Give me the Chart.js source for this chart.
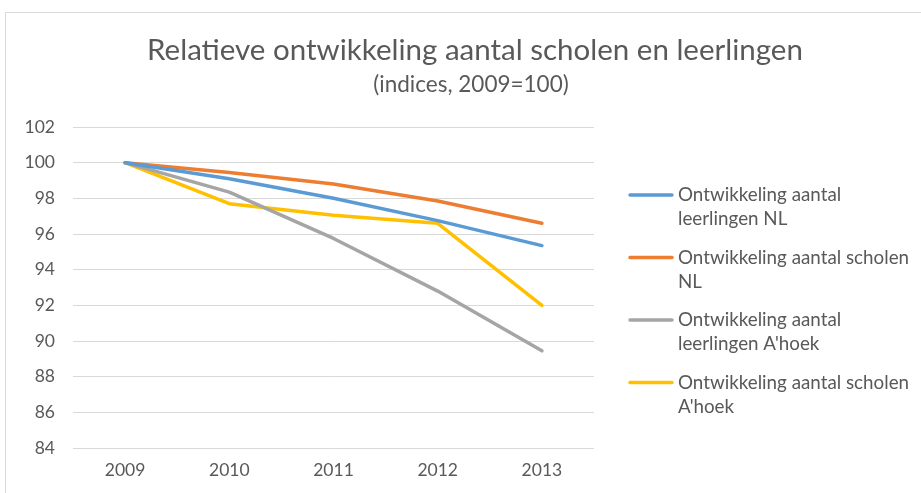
<!DOCTYPE html>
<html>
<head>
<meta charset="utf-8">
<script src="https://cdn.jsdelivr.net/npm/chart.js@4"></script>
<style>
  html, body { margin: 0; padding: 0; background: #fff; }
  canvas { display: block; }
</style>
</head>
<body>
<canvas id="chart" width="921" height="493"></canvas>
<script>
const years = ['2009', '2010', '2011', '2012', '2013'];
const seriesNames = [
  ['Ontwikkeling aantal', 'leerlingen NL'],
  ['Ontwikkeling aantal scholen', 'NL'],
  ['Ontwikkeling aantal', "leerlingen A'hoek"],
  ['Ontwikkeling aantal scholen', "A'hoek"]
];
const leerlingenNL = [100, 99.1, 98.0, 96.75, 95.35];
const scholenNL = [100, 99.45, 98.8, 97.85, 96.6];
const leerlingenAhoek = [100, 98.35, 95.75, 92.8, 89.45];
const scholenAhoek = [100, 97.7, 97.05, 96.6, 92.0];
const yTicks = [84, 86, 88, 90, 92, 94, 96, 98, 100, 102];
const colors = ['#5B9BD5', '#ED7D31', '#A5A5A5', '#FFC000'];

const FONT = 'Lato, "Open Sans", sans-serif';
const TEXT = '#595959';

// titles, border and the two-line legend on the right
const decorations = {
  id: 'decorations',
  beforeDraw(chart) {
    const c = chart.ctx;
    c.save();
    c.strokeStyle = '#d9d9d9';
    c.lineWidth = 1;
    c.strokeRect(5.5, 12.5, 1000, 1000);
    c.restore();
  },
  afterDraw(chart) {
    const c = chart.ctx;
    c.save();
    c.fillStyle = TEXT;
    c.textAlign = 'center';
    c.textBaseline = 'middle';
    c.font = '29.5px ' + FONT;
    c.fillText('Relatieve ontwikkeling aantal scholen en leerlingen', 475, 50);
    c.font = '22.5px ' + FONT;
    c.fillText('(indices, 2009=100)', 471, 85);

    c.textAlign = 'left';
    c.font = '18.8px ' + FONT;
    c.lineCap = 'round';
    chart.data.datasets.forEach((ds, i) => {
      const y = 195 + i * 62.5;
      c.strokeStyle = ds.borderColor;
      c.lineWidth = 3.5;
      c.beginPath();
      c.moveTo(630, y);
      c.lineTo(672, y);
      c.stroke();
      c.fillStyle = TEXT;
      seriesNames[i].forEach((line, j) => c.fillText(line, 678, y + j * 24));
    });
    c.restore();
  }
};

new Chart(document.getElementById('chart'), {
  type: 'line',
  data: {
    labels: years,
    datasets: [leerlingenNL, scholenNL, leerlingenAhoek, scholenAhoek].map((d, i) => ({
      label: seriesNames[i].join(' '),
      data: d,
      borderColor: colors[i],
      backgroundColor: colors[i],
      borderWidth: 3.5,
      borderCapStyle: 'round',
      borderJoinStyle: 'round',
      pointRadius: 0,
      tension: 0
    }))
  },
  options: {
    responsive: false,
    animation: false,
    layout: { padding: { top: 127, right: 327, bottom: 0, left: 0 } },
    plugins: {
      legend: { display: false },
      tooltip: { enabled: false }
    },
    scales: {
      x: {
        offset: true,
        grid: { display: false, drawTicks: false },
        border: { display: false },
        ticks: { color: TEXT, font: { family: FONT, size: 17.5 }, padding: 12 },
        afterFit: (s) => { s.height = 45; }
      },
      y: {
        min: 84,
        max: 102,
        afterBuildTicks: (s) => { s.ticks = yTicks.map(v => ({ value: v })); },
        grid: { color: '#d9d9d9', lineWidth: 1, drawTicks: false },
        border: { display: false },
        ticks: { color: TEXT, font: { family: FONT, size: 17.5 }, padding: 18 },
        afterFit: (s) => { s.width = 73; }
      }
    }
  },
  plugins: [decorations]
});
</script>
</body>
</html>
